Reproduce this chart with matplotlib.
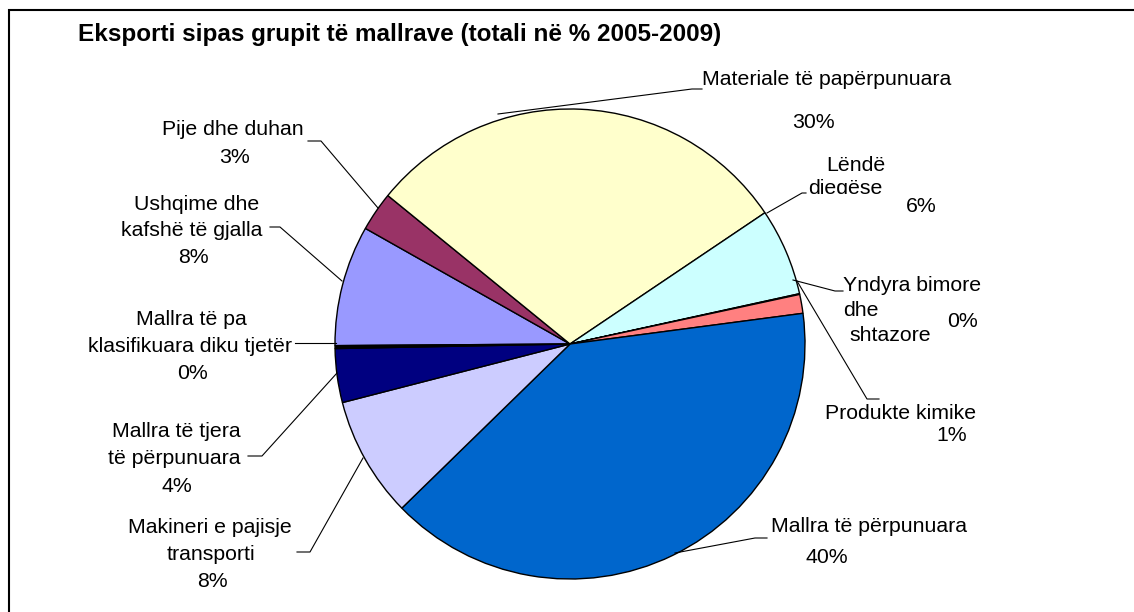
import matplotlib
matplotlib.use("Agg")
import matplotlib.pyplot as plt
from matplotlib.patches import Rectangle
from matplotlib.transforms import Bbox, TransformedBbox

W, H = 1134, 612

title = "Eksporti sipas grupit të mallrave (totali në % 2005-2009)"

categories = [
    "Ushqime dhe kafshë të gjalla",
    "Pije dhe duhan",
    "Materiale të papërpunuara",
    "Lëndë djegëse",
    "Yndyra bimore dhe shtazore",
    "Produkte kimike",
    "Mallra të përpunuara",
    "Makineri e pajisje transporti",
    "Mallra të tjera të përpunuara",
    "Mallra të pa klasifikuara diku tjetër",
]
shares = [8.3, 2.7, 29.7, 6.0, 0.05, 1.3, 39.8, 8.3, 3.7, 0.2]

colors = ["#9999FF", "#993366", "#FFFFCC", "#CCFFFF", "#000000",
          "#FF8080", "#0066CC", "#CCCCFF", "#000080", "#000000"]

# label layout in pixel coords (x, baseline y from top); "{p}" is replaced by the share
layout = {
    "Ushqime dhe kafshë të gjalla": dict(
        lines=[("Ushqime dhe", 197, 210, "center"), ("kafshë të gjalla", 192, 236, "center"),
               ("{p}", 193, 263, "center")],
        leader=[(342, 281), (280, 227), (270, 227)]),
    "Pije dhe duhan": dict(
        lines=[("Pije dhe duhan", 233, 135, "center"), ("{p}", 235, 163, "center")],
        leader=[(378, 208), (321, 141), (308, 141)]),
    "Materiale të papërpunuara": dict(
        lines=[("Materiale të papërpunuara", 702, 85, "left"), ("{p}", 813, 128, "center")],
        leader=[(498, 114), (692, 89), (702, 89)]),
    "Lëndë djegëse": dict(
        lines=[("Lëndë", 856, 171, "center"), ("djegëse", 845, 193.5, "center"),
               ("{p}", 921, 212, "center")],
        leader=[(767, 213), (802, 193), (806, 193)]),
    "Yndyra bimore dhe shtazore": dict(
        lines=[("Yndyra bimore", 843, 291, "left"), ("dhe", 843, 316, "left"),
               ("shtazore", 849, 341, "left"), ("{p}", 962, 327, "center")],
        leader=[(793, 280), (835, 291), (843, 291)]),
    "Produkte kimike": dict(
        lines=[("Produkte kimike", 901, 419, "center"), ("{p}", 952, 441, "center")],
        leader=[(797, 281), (867, 399), (879, 399)]),
    "Mallra të përpunuara": dict(
        lines=[("Mallra të përpunuara", 771, 532, "left"), ("{p}", 827, 563, "center")],
        leader=[(675, 553), (755, 538), (767, 538)]),
    "Makineri e pajisje transporti": dict(
        lines=[("Makineri e pajisje", 210, 533, "center"), ("transporti", 211, 560, "center"),
               ("{p}", 212, 587, "center")],
        leader=[(363, 458), (310, 552), (297, 552)]),
    "Mallra të tjera të përpunuara": dict(
        lines=[("Mallra të tjera", 176, 437, "center"), ("të përpunuara", 174, 464, "center"),
               ("{p}", 177, 492, "center")],
        leader=[(337, 373), (262, 456), (248, 456)]),
    "Mallra të pa klasifikuara diku tjetër": dict(
        lines=[("Mallra të pa", 191, 325, "center"), ("klasifikuara diku tjetër", 190, 352, "center"),
               ("{p}", 192, 379, "center")],
        leader=[(336, 343), (295, 343)]),
}


def px(x, y):
    # pixel position (from top-left) -> data coords of the full-figure axes
    return x, H - y


def main():
    plt.rcParams["font.family"] = ["Liberation Sans", "DejaVu Sans"]

    fig = plt.figure(figsize=(W / 100, H / 100), dpi=100)
    ax = fig.add_axes([0, 0, 1, 1])

    ax.pie(shares, colors=colors, startangle=180.4, counterclock=False,
           center=px(570, 344), radius=235,
           wedgeprops=dict(edgecolor="black", linewidth=1.0))

    ax.set_xlim(0, W)
    ax.set_ylim(0, H)
    ax.set_aspect("equal")
    ax.axis("off")

    # outer chart frame (right and bottom edges are cut off in the original)
    ax.add_patch(Rectangle(px(9, 640), 1200, 630, fill=False,
                           edgecolor="black", linewidth=1.5))

    ax.text(*px(78, 41), title, fontsize=17.5, fontweight="bold",
            ha="left", va="baseline")

    for name, value in zip(categories, shares):
        spec = layout[name]
        pct = f"{value:.0f}%"
        for text, x, y, ha in spec["lines"]:
            t = ax.text(*px(x, y), text.replace("{p}", pct), fontsize=15.3,
                        ha=ha, va="baseline")
            if text == "djegëse":
                # the label box in the original cuts this word off at the baseline
                t.set_clip_box(TransformedBbox(Bbox([[0, H - 193.5], [W, H]]), ax.transData))
                t.set_clip_on(True)
        xs, ys = zip(*[px(x, y) for x, y in spec["leader"]])
        ax.plot(xs, ys, color="black", linewidth=0.8)

    fig.savefig("out.png", dpi=100)


if __name__ == "__main__":
    main()
